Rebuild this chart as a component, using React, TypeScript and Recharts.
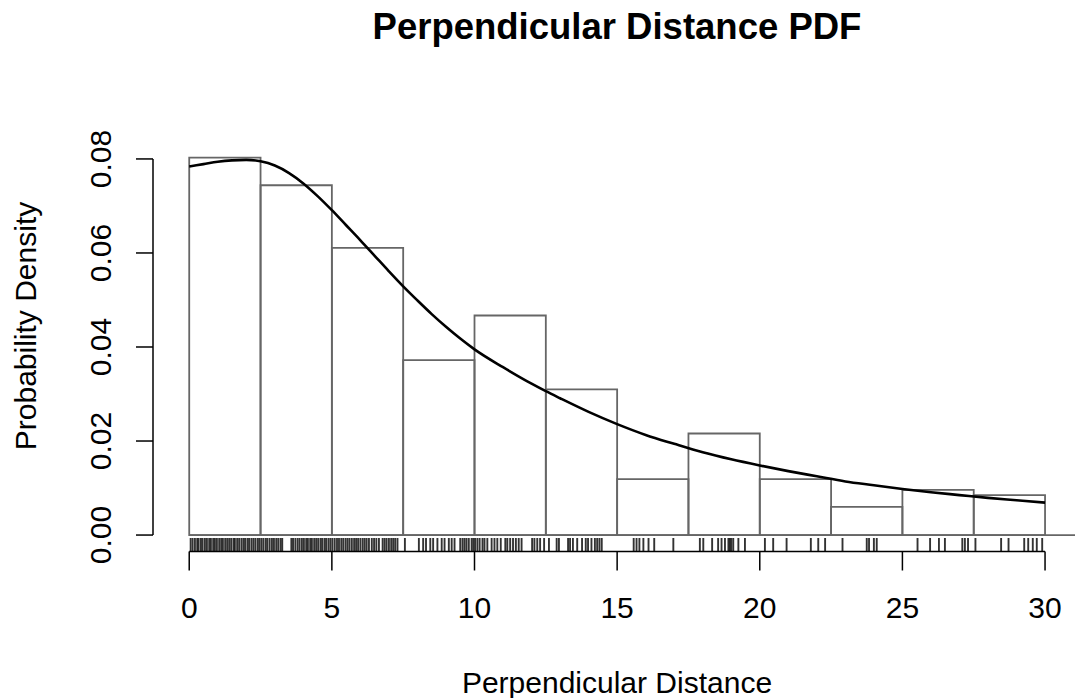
import React from "react";
import {
  ComposedChart, Line, XAxis, YAxis, ReferenceArea, ReferenceLine,
} from "recharts";

const FONT = "'Liberation Sans', Arial, Helvetica, sans-serif";

// histogram bins (width 2.5) and their densities
const binEdges = [0, 2.5, 5, 7.5, 10, 12.5, 15, 17.5, 20, 22.5, 25, 27.5, 30];
const binDensity = [0.0803, 0.0744, 0.0611, 0.0372, 0.0467, 0.0310, 0.0119, 0.0216, 0.0119, 0.0060, 0.0096, 0.0085];

// fitted density curve
const curveX = [0, 0.5, 1, 1.5, 2, 2.5, 3, 3.5, 4, 4.5, 5, 5.5, 6, 6.5, 7, 7.5, 8, 8.5, 9, 9.5, 10, 11, 12, 12.5, 13, 14, 15, 16, 17, 18, 19, 20, 21, 22, 23, 24, 25, 26, 27, 28, 29, 30];
const curveY = [0.0784, 0.0789, 0.0794, 0.0797, 0.0798, 0.0795, 0.0786, 0.0770, 0.0748, 0.0721, 0.0691, 0.0659, 0.0627, 0.0594, 0.0561, 0.0529, 0.0499, 0.0470, 0.0443, 0.0418, 0.0395, 0.0357, 0.0322, 0.0306, 0.0291, 0.0262, 0.0236, 0.0213, 0.0194, 0.0176, 0.0161, 0.0148, 0.0136, 0.0125, 0.0114, 0.0106, 0.0098, 0.0091, 0.0085, 0.0079, 0.0074, 0.0069];

// observed distances (rug)
const rugValues = [
  0.05, 0.12, 0.2, 0.28, 0.33, 0.41, 0.47, 0.55, 0.62, 0.7, 0.76, 0.84, 0.9, 0.97, 1.05, 1.12, 1.18, 1.26, 1.33, 1.4, 1.47, 1.55, 1.6, 1.68, 1.75, 1.83, 1.9, 1.96, 2.04, 2.1, 2.18, 2.25, 2.32, 2.4, 2.46,
  2.53, 2.6, 2.68, 2.74, 2.82, 2.9, 2.97, 3.05, 3.12, 3.2, 3.26, 3.58, 3.64, 3.72, 3.8, 3.87, 3.95, 4.02, 4.1, 4.16, 4.24, 4.3, 4.38, 4.45, 4.52, 4.6, 4.66, 4.74, 4.8, 4.88, 4.95,
  5.02, 5.1, 5.18, 5.25, 5.33, 5.4, 5.48, 5.55, 5.62, 5.7, 5.78, 5.85, 5.92, 6.0, 6.08, 6.15, 6.22, 6.3, 6.4, 6.48, 6.56, 6.65, 6.78, 6.85, 6.92, 7.0, 7.08, 7.15, 7.22, 7.3,
  7.56, 8.05, 8.2, 8.3, 8.45, 8.55, 8.7, 8.85, 8.95, 9.1, 9.2, 9.3, 9.5, 9.58, 9.65, 9.72, 9.8, 9.9, 9.96,
  10.02, 10.1, 10.18, 10.28, 10.35, 10.45, 10.6, 10.7, 10.8, 10.92, 11.08, 11.15, 11.25, 11.35, 11.45, 11.55, 11.65, 12.02, 12.1, 12.2, 12.3, 12.44,
  12.61, 12.88, 12.96, 13.28, 13.35, 13.45, 13.6, 13.77, 13.9, 13.98, 14.1, 14.22, 14.3, 14.38, 14.46,
  15.58, 15.68, 15.78, 15.92, 16.1, 16.3, 16.97,
  17.9, 18.02, 18.33, 18.54, 18.66, 18.78, 18.9, 18.95, 19.0, 19.07, 19.25, 19.48,
  20.18, 20.47, 20.94, 21.79, 22.05, 22.29,
  22.9, 23.75, 23.83, 24.0, 24.1,
  25.53, 25.97, 26.28, 26.49, 27.1, 27.19, 27.3,
  27.56, 28.46, 28.72, 29.27, 29.41, 29.57, 29.71, 29.9,
];

const xTicks = [0, 5, 10, 15, 20, 25, 30];
const yTicks = [0, 0.02, 0.04, 0.06, 0.08];

const X_MIN = -1.27;
const X_MAX = 31.05;
const Y_MIN = -0.0035;
const Y_MAX = 0.0919;
const RUG_TOP = Y_MIN + 0.00287;

const curve = curveX.map((x, i) => ({ x, y: curveY[i] }));

const XTick = ({ x, payload }: any) => (
  <text x={x} y={618} textAnchor="middle" fontSize={30} fontFamily={FONT} fill="#000">
    {payload.value}
  </text>
);

const YTick = ({ y, payload }: any) => (
  <text x={111} y={y} transform={`rotate(-90 111 ${y})`} textAnchor="middle" fontSize={30} fontFamily={FONT} fill="#000">
    {Number(payload.value).toFixed(2)}
  </text>
);

export default function App() {
  return (
    <div style={{ position: "absolute", left: 0, top: 0, width: 1075, height: 698, background: "#fff" }}>
      <ComposedChart width={1075} height={698} data={curve} margin={{ top: 103, right: 0, bottom: 0, left: 0 }}>
        <XAxis
          type="number"
          dataKey="x"
          domain={[X_MIN, X_MAX]}
          ticks={xTicks}
          allowDataOverflow
          height={146.5}
          axisLine={false}
          tickLine={{ stroke: "#000", strokeWidth: 1.5 }}
          tickSize={19}
          tick={<XTick />}
        />
        <YAxis
          type="number"
          domain={[Y_MIN, Y_MAX]}
          ticks={yTicks}
          allowDataOverflow
          width={153}
          axisLine={false}
          tickLine={{ stroke: "#000", strokeWidth: 1.5 }}
          tickSize={17}
          tick={<YTick />}
        />
        {binDensity.map((d, i) => (
          <ReferenceArea
            key={`bin-${i}`}
            x1={binEdges[i]}
            x2={binEdges[i + 1]}
            y1={0}
            y2={d}
            fill="none"
            stroke="#666"
            strokeWidth={1.8}
            ifOverflow="visible"
          />
        ))}
        <ReferenceLine segment={[{ x: 0, y: 0 }, { x: X_MAX, y: 0 }]} stroke="#666" strokeWidth={1.8} ifOverflow="visible" />
        {/* axis lines, R style: only across the tick range */}
        <ReferenceLine segment={[{ x: X_MIN, y: 0 }, { x: X_MIN, y: 0.08 }]} stroke="#000" strokeWidth={1.5} ifOverflow="visible" />
        <ReferenceLine segment={[{ x: 0, y: Y_MIN }, { x: 30, y: Y_MIN }]} stroke="#000" strokeWidth={1.5} ifOverflow="visible" />
        {rugValues.map((v, i) => (
          <ReferenceLine
            key={`rug-${i}`}
            segment={[{ x: v, y: Y_MIN }, { x: v, y: RUG_TOP }]}
            stroke="#000"
            strokeOpacity={0.8}
            strokeWidth={1.9}
            ifOverflow="visible"
          />
        ))}
        <Line
          type="monotone"
          dataKey="y"
          stroke="#000"
          strokeWidth={2.6}
          dot={false}
          activeDot={false}
          isAnimationActive={false}
        />
      </ComposedChart>
      <svg width={1075} height={698} style={{ position: "absolute", left: 0, top: 0, pointerEvents: "none" }}>
        <text x={617} y={39} textAnchor="middle" fontSize={36.5} fontWeight="bold" fontFamily={FONT} fill="#000">
          Perpendicular Distance PDF
        </text>
        <text x={617} y={693} textAnchor="middle" fontSize={30} fontFamily={FONT} fill="#000">
          Perpendicular Distance
        </text>
        <text x={36} y={326} transform="rotate(-90 36 326)" textAnchor="middle" fontSize={30} fontFamily={FONT} fill="#000">
          Probability Density
        </text>
      </svg>
    </div>
  );
}
